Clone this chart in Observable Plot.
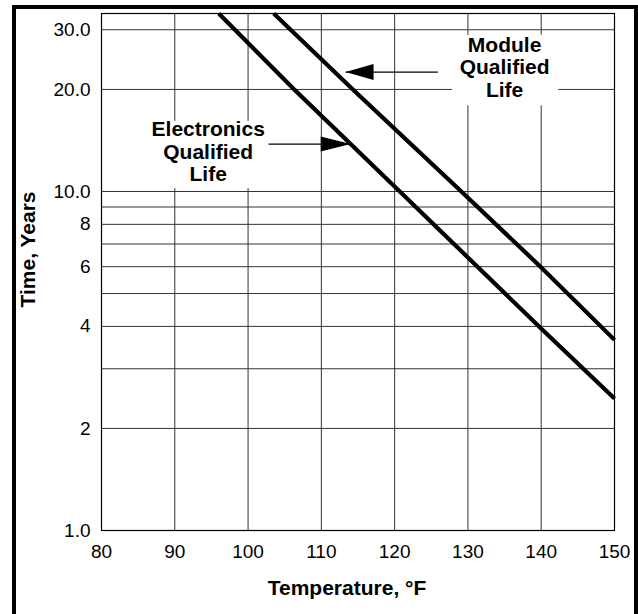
<!DOCTYPE html>
<html>
<head>
<meta charset="utf-8">
<script src="https://cdn.jsdelivr.net/npm/d3@7"></script>
<script src="https://cdn.jsdelivr.net/npm/@observablehq/plot@0.6"></script>
<style>
  html, body { margin: 0; padding: 0; background: #fff; }
  #wrap { position: relative; width: 638px; height: 614px; overflow: hidden; }
  #border { position: absolute; left: 12px; top: 5px; width: 618px; height: 640px; border: 4px solid #000; pointer-events: none; }
  #chart { position: absolute; left: 0; top: 0; }
</style>
</head>
<body>
<div id="wrap"><div id="chart"></div><div id="border"></div></div>
<script>
// Axis ticks and grid
const temperatureTicks = [80, 90, 100, 110, 120, 130, 140, 150];
const yearGrid = [1, 2, 3, 4, 5, 6, 7, 8, 9, 10, 20, 30];
const yearTickValues = [1, 2, 4, 6, 8, 10, 20, 30];
const yearTickLabels = ["1.0", "2", "4", "6", "8", "10.0", "20.0", "30.0"];

// Series
const electronicsTemp = [96.0, 106.3, 120.7, 139.7, 150];
const electronicsYears = [33.5, 20, 10, 4, 2.45];
const moduleTemp = [103.5, 114.3, 129.1, 139.9, 150];
const moduleYears = [33.5, 20, 10, 6, 3.65];

// Annotations (data units)
const labelText = ["Electronics\nQualified\nLife", "Module\nQualified\nLife"];
const labelTemp = [94.56, 135.0];
const labelYears = [13.1, 23.3];
const boxTemp1 = [85.4, 127.9];
const boxTemp2 = [102.5, 142.4];
const boxYears1 = [10.2, 17.9];
const boxYears2 = [16.1, 28.9];
const arrowFromTemp = [102.8, 125.9];
const arrowToTemp = [114.0, 113.3];
const arrowYears = [13.8, 22.5];
const arrowDir = ["right", "left"];

const series = [
  ...electronicsTemp.map((t, i) => ({name: "Electronics", temp: t, years: electronicsYears[i]})),
  ...moduleTemp.map((t, i) => ({name: "Module", temp: t, years: moduleYears[i]}))
];
const labels = labelText.map((text, i) => ({
  text, temp: labelTemp[i], years: labelYears[i],
  bx1: boxTemp1[i], bx2: boxTemp2[i], by1: boxYears1[i], by2: boxYears2[i],
  ax1: arrowFromTemp[i], ax2: arrowToTemp[i], ay: arrowYears[i], dir: arrowDir[i]
}));

const headRight = {draw(ctx) { ctx.moveTo(0, 0); ctx.lineTo(-30, -7.5); ctx.lineTo(-30, 7.5); ctx.closePath(); }};
const headLeft = {draw(ctx) { ctx.moveTo(0, 0); ctx.lineTo(28, -8); ctx.lineTo(28, 8); ctx.closePath(); }};

const font = "'Liberation Sans', Arial, Helvetica, sans-serif";

const chart = Plot.plot({
  width: 638,
  height: 614,
  marginLeft: 101,
  marginRight: 24,
  marginTop: 13,
  marginBottom: 84,
  style: {fontFamily: font, fontSize: "19px", color: "#000", background: "transparent"},
  x: {domain: [80, 150]},
  y: {type: "log", domain: [1, 33.5]},
  marks: [
    Plot.ruleX(temperatureTicks, {stroke: "#333", strokeWidth: 1}),
    Plot.ruleY(yearGrid, {stroke: "#333", strokeWidth: 1}),
    Plot.rect(labels, {x1: "bx1", x2: "bx2", y1: "by1", y2: "by2", fill: "white"}),
    Plot.frame({stroke: "#000", strokeWidth: 1.2}),
    Plot.axisX(temperatureTicks, {tickSize: 0, tickPadding: 14, label: null, fontSize: 19}),
    Plot.axisY(yearTickValues, {tickSize: 0, tickPadding: 11, label: null, fontSize: 19,
      tickFormat: (d) => yearTickLabels[yearTickValues.indexOf(d)]}),
    Plot.line(series, {x: "temp", y: "years", z: "name", stroke: "#000", strokeWidth: 4.2, strokeLinecap: "butt"}),
    Plot.link(labels, {x1: "ax1", x2: "ax2", y1: "ay", y2: "ay", stroke: "#000", strokeWidth: 1.2}),
    Plot.dot(labels.filter(d => d.dir === "right"), {x: "ax2", y: "ay", symbol: headRight, fill: "#000", stroke: "none", r: 5}),
    Plot.dot(labels.filter(d => d.dir === "left"), {x: "ax2", y: "ay", symbol: headLeft, fill: "#000", stroke: "none", r: 5}),
    Plot.text(labels, {x: "temp", y: "years", text: "text", fontSize: 21, fontWeight: "bold", lineHeight: 1.07, fill: "#000"}),
    Plot.text(["Temperature, °F"], {frameAnchor: "bottom", textAnchor: "middle", lineAnchor: "middle", dy: 58, dx: -11, fontSize: 21, fontWeight: "bold", fill: "#000"}),
    Plot.text(["Time, Years"], {frameAnchor: "left", textAnchor: "middle", lineAnchor: "middle", rotate: -90, dx: -73, dy: -22.5, fontSize: 21, fontWeight: "bold", fill: "#000"})
  ]
});
document.getElementById("chart").appendChild(chart);
</script>
</body>
</html>
